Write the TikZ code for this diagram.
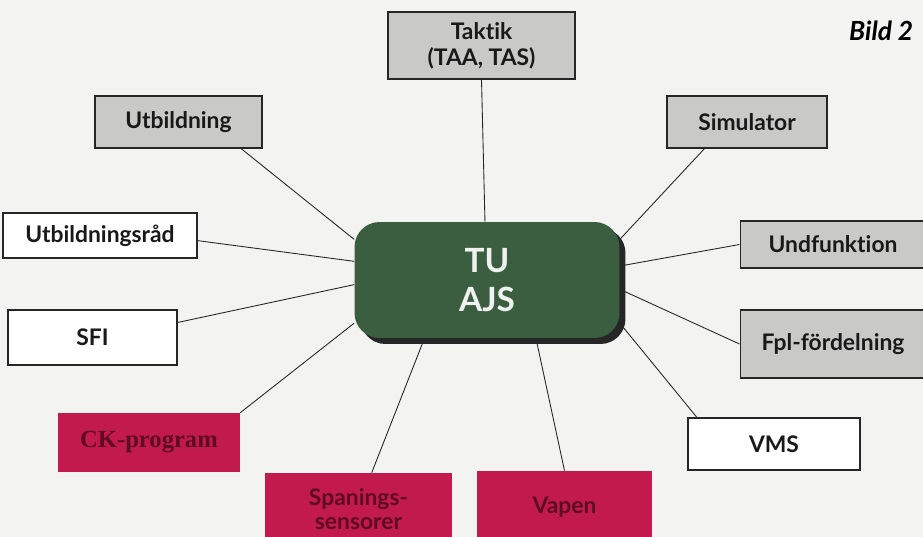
\documentclass[tikz,border=0pt]{standalone}
\usepackage{fontspec}
\setmainfont{Lato}[Ligatures={NoCommon}]
\newfontfamily\serifbox{Liberation Serif}
\usetikzlibrary{positioning, shadows}

\definecolor{papier}{HTML}{F3F3F1}
\definecolor{grau}{HTML}{C9C9C7}
\definecolor{gruen}{HTML}{3C5E40}
\definecolor{rot}{HTML}{C21A4C}
\definecolor{dunkelrot}{HTML}{5E0C22}

\begin{document}
\begin{tikzpicture}[x=0.02cm, y=-0.02cm]

	\tikzstyle{kasten}=[rectangle, draw=black!85, line width=0.6pt, align=center, font=\fontsize{13}{15}\selectfont\bfseries, text=black!90, inner sep=0pt]
	\tikzstyle{grau}=[kasten, fill=grau]
	\tikzstyle{weiss}=[kasten, fill=white]
	\tikzstyle{rot}=[rectangle, fill=rot, align=center, font=\fontsize{13}{14}\selectfont\bfseries, text=dunkelrot, inner sep=0pt]
	\tikzstyle{linie}=[line width=0.5pt, black!85]

	\fill[papier] (0,0) rectangle (923,537);
	\useasboundingbox (0,0) rectangle (923,537);
	\clip (0,0) rectangle (923,537);

	\node[grau, minimum width=3.74cm, minimum height=1.34cm] (tak) at (481.5,45.5) {Taktik\\(TAA, TAS)}; % OBEN
	\node[grau, minimum width=3.34cm, minimum height=1.04cm] (utb) at (178.5,122) {Utbildning};
	\node[grau, minimum width=3.2cm, minimum height=1.04cm] (sim) at (747,122) {Simulator};
	\node[weiss, minimum width=3.88cm, minimum height=0.9cm] (rad) at (100,235.5) {Utbildningsråd}; % LINKS
	\node[weiss, minimum width=3.38cm, minimum height=1.1cm] (sfi) at (92.5,337.5) {SFI};
	\node[grau, minimum width=3.72cm, minimum height=0.94cm] (und) at (833,244.5) {Undfunktion}; % RECHTS
	\node[grau, minimum width=3.72cm, minimum height=1.36cm] (fpl) at (833,344) {Fpl-fördelning};
	\node[weiss, minimum width=3.44cm, minimum height=1.04cm] (vms) at (774,444) {VMS};
	\node[rot, minimum width=3.64cm, minimum height=1.18cm, font=\serifbox\fontsize{14}{15}\selectfont\bfseries] (ck) at (149,442.5) {CK-program}; % UNTEN
	\node[rot, minimum width=3.74cm, minimum height=1.44cm] (spa) at (358.5,509) {Spanings-\\sensorer};
	\node[rot, minimum width=3.5cm, minimum height=1.44cm] (vap) at (564.5,507) {Vapen};

	\node[rectangle, rounded corners=0.5cm, fill=gruen, minimum width=5.3cm, minimum height=2.32cm, align=center, text=white!92!gruen, font=\fontsize{19}{22}\selectfont\bfseries, drop shadow={shadow xshift=0.12cm, shadow yshift=-0.12cm, fill=black!85, opacity=1}] (tu) at (487,280) {TU\\AJS}; % MITTE

	\node[anchor=west, font=\fontsize{15}{17}\selectfont\bfseries\itshape] (bild) at (843,31) {Bild 2};

	\draw[linie] (tak.south) -- (tu.92);
	\draw[linie] (utb.-23) -- (tu.163);
	\draw[linie] (sim.212) -- (tu.17);
	\draw[linie] (rad.-3) -- (tu.172);
	\draw[linie] (sfi.10) -- (tu.182);
	\draw[linie] (und.west) -- (tu.6);
	\draw[linie] (fpl.west) -- (tu.356);
	\draw[linie] (vms.161) -- (tu.342);
	\draw[linie] (ck.north east) -- (tu.198);
	\draw[linie] (spa.70) -- (tu.223);
	\draw[linie] (vap.north) -- (tu.310);
\end{tikzpicture}
\end{document}
